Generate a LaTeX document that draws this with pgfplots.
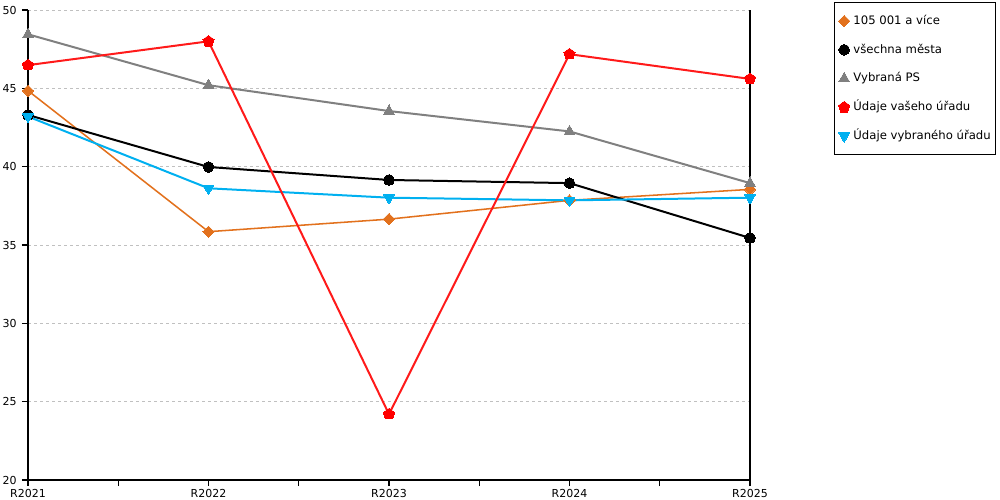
\documentclass[border=0pt]{standalone}
\usepackage{pgfplots}
\pgfplotsset{compat=1.18}
\usepackage{fontspec}
\setmainfont{DejaVu Sans}
\definecolor{corange}{HTML}{E2711D}
\definecolor{cgrey}{HTML}{808080}
\definecolor{cred}{HTML}{FF1A1A}
\definecolor{cblue}{HTML}{00B0F0}
\definecolor{cgrid}{HTML}{C0C0C0}
\begin{document}
\begin{tikzpicture}
\useasboundingbox (0,0) rectangle (750pt,375pt);
\begin{axis}[
  at={(21pt,15pt)}, anchor=south west,
  scale only axis, width=541.5pt, height=352.5pt,
  xmin=0, xmax=4, ymin=20, ymax=50,
  xtick={0,1,2,3,4},
  xticklabels={R2021,R2022,R2023,R2024,R2025},
  minor xtick={0.5,1.5,2.5,3.5},
  ytick={20,25,30,35,40,45,50},
  axis x line=bottom, axis y line=box,
  ytick pos=left,
  axis line style={-, black, line width=0.8pt},
  tick align=outside,
  major tick length=4.5pt, minor tick length=4.5pt,
  every tick/.style={black, line width=0.8pt},
  ymajorgrids,
  major grid style={cgrid, dash pattern=on 2pt off 2.5pt, line width=0.6pt},
  tick label style={font=\fontsize{8.25pt}{9pt}\selectfont},
  /pgf/number format/assume math mode=true,
  yticklabel style={xshift=-0.5pt},
  xticklabel style={yshift=1pt},
  clip=false,
  legend cell align=left,
  legend image code/.code={\draw[mark repeat=2,mark phase=2,#1] plot coordinates {(0pt,0pt) (3.5pt,0pt) (7pt,0pt)};},
  legend style={at={(1.11634,1.01702)}, anchor=north west,
    draw=black, line width=0.8pt,
    font=\fontsize{8.75pt}{10pt}\selectfont,
    inner xsep=3pt, inner ysep=8.9pt,
    row sep=11.55pt,
    nodes={inner sep=0.5pt, text height=7pt, text depth=2pt},
    /tikz/every odd column/.append style={column sep=2.2pt}},
]
\addlegendimage{only marks, mark=square*, mark size=3pt, mark options={rotate=45, fill=corange, draw=corange, line width=0pt}}
\addlegendentry{105 001 a více}
\addlegendimage{only marks, mark=*, mark size=4pt, mark options={fill=black, draw=black, line width=0pt}}
\addlegendentry{všechna města}
\addlegendimage{only marks, mark=triangle*, mark size=4.6pt, mark options={fill=cgrey, draw=cgrey, line width=0pt}}
\addlegendentry{Vybraná PS}
\addlegendimage{only marks, mark=pentagon*, mark size=4.4pt, mark options={fill=red, draw=red, line width=0pt}}
\addlegendentry{Údaje vašeho úřadu}
\addlegendimage{only marks, mark=triangle*, mark size=4.6pt, mark options={rotate=180, fill=cblue, draw=cblue, line width=0pt}}
\addlegendentry{Údaje vybraného úřadu}

\addplot[forget plot, color=corange, line width=1.15pt, mark=square*, mark size=3pt, mark options={rotate=45, line width=0pt}]
  coordinates {(0,44.85) (1,35.85) (2,36.65) (3,37.85) (4,38.55)};
\addplot[forget plot, color=cgrey, line width=1.5pt, mark=triangle*, mark size=4.6pt, mark options={line width=0pt}]
  coordinates {(0,48.45) (1,45.2) (2,43.55) (3,42.25) (4,38.95)};
\addplot[forget plot, color=black, line width=1.5pt, mark=*, mark size=4pt, mark options={line width=0pt}]
  coordinates {(0,43.3) (1,39.98) (2,39.15) (3,38.95) (4,35.45)};
\addplot[forget plot, color=cblue, line width=1.5pt, mark=triangle*, mark size=4.6pt, mark options={rotate=180, line width=0pt}]
  coordinates {(0,43.2) (1,38.62) (2,38.02) (3,37.85) (4,38.02)};
\addplot[forget plot, color=cred, line width=1.5pt, mark=pentagon*, mark size=4.4pt, mark options={fill=red, draw=red, line width=0pt}]
  coordinates {(0,46.48) (1,48.0) (2,24.2) (3,47.18) (4,45.6)};
\end{axis}
\end{tikzpicture}
\end{document}
